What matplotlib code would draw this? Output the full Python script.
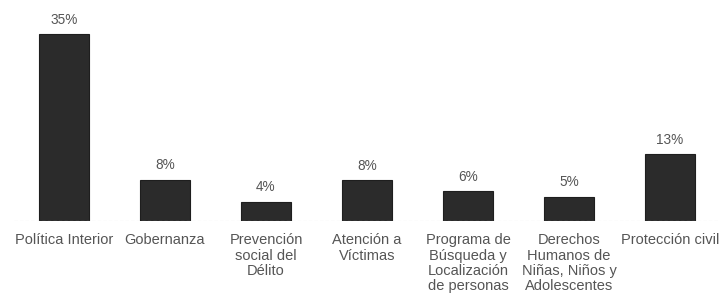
import matplotlib
matplotlib.use("Agg")
import matplotlib.pyplot as plt

categories = ["Política Interior", "Gobernanza", "Prevención\nsocial del\nDélito",
              "Atención a\nVíctimas", "Programa de\nBúsqueda y\nLocalización\nde personas",
              "Derechos\nHumanos de\nNiñas, Niños y\nAdolescentes", "Protección civil"]
values = [35.0, 7.7, 3.6, 7.6, 5.5, 4.5, 12.5]
labels = ["35%", "8%", "4%", "8%", "6%", "5%", "13%"]

plt.rcParams['font.family'] = ['Liberation Sans', 'DejaVu Sans']
fig = plt.figure(figsize=(7.2, 2.99), dpi=100)
ax = fig.add_axes([13.5/720, 78.3/299, 707/720, 210.7/299])
x = range(len(categories))
bars = ax.bar(x, values, width=0.49, color="#2b2b2b", edgecolor="#1e1e1e", linewidth=0.8)
for xi, v, lab in zip(x, values, labels):
    ax.text(xi, v + 1.4, lab, ha="center", va="bottom", fontsize=9.8, color="#555555")
ax.set_xlim(-0.5, 6.5)
ax.set_ylim(0, 39.6)
ax.axhline(0, color="#d0d0d0", linewidth=0.8, linestyle=(0, (3, 2)))
ax.set_xticks(list(x))
ax.set_xticklabels(categories, fontsize=10.5, color="#555555", linespacing=1.12, va="top")
ax.tick_params(axis="x", length=0, pad=9)
ax.set_yticks([])
for s in ax.spines.values():
    s.set_visible(False)
fig.savefig("out.png", dpi=100)
